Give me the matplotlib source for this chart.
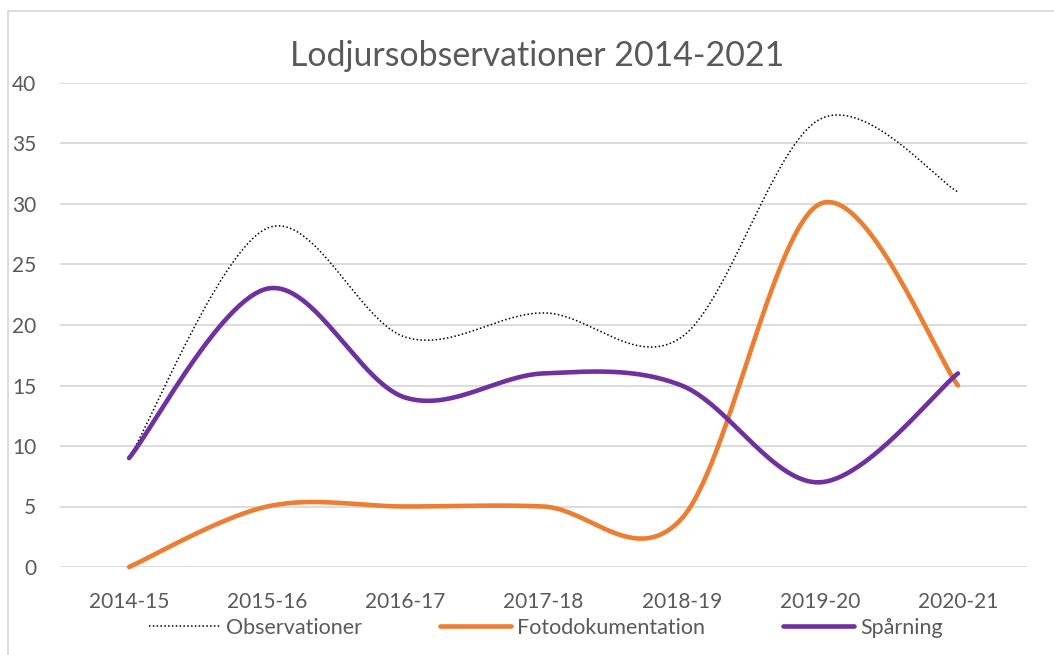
import numpy as np
import matplotlib
matplotlib.use("Agg")
import matplotlib.pyplot as plt
from matplotlib.lines import Line2D

categories = ["2014-15", "2015-16", "2016-17", "2017-18", "2018-19", "2019-20", "2020-21"]
observationer = [9, 28, 19, 21, 19, 37, 31]
fotodokumentation = [0, 5, 5, 5, 4, 30, 15]
sparning = [9, 23, 14, 16, 15, 7, 16]
title = "Lodjursobservationer 2014-2021"
yticks = [0, 5, 10, 15, 20, 25, 30, 35, 40]

TEXT = "#595959"
GRID = "#d9d9d9"
plt.rcParams["font.family"] = ["Lato", "DejaVu Sans"]

W, H = 1054, 655
fig = plt.figure(figsize=(W / 100, H / 100), dpi=100)
ax = fig.add_axes([60 / W, (H - 567) / H, (1027 - 60) / W, (567 - 83) / H])
ax.set_xlim(-0.5, len(categories) - 0.5)
ax.set_ylim(0, 40)


def smooth(xs, ys, n=60):
    pts = ax.transData.transform(np.column_stack([xs, ys]))
    out = [pts[0]]
    m = len(pts)
    for i in range(m - 1):
        p0 = pts[i - 1] if i > 0 else pts[i]
        p1 = pts[i]
        p2 = pts[i + 1]
        p3 = pts[i + 2] if i + 2 < m else pts[i + 1]
        d02 = np.linalg.norm(p2 - p0)
        d13 = np.linalg.norm(p3 - p1)
        d12 = np.linalg.norm(p2 - p1)
        f1 = 1 / 6 if d02 == 0 else min(1 / 6, 0.5 * d12 / d02)
        f2 = 1 / 6 if d13 == 0 else min(1 / 6, 0.5 * d12 / d13)
        c1 = p1 + (p2 - p0) * f1
        c2 = p2 - (p3 - p1) * f2
        t = np.linspace(0, 1, n)[1:, None]
        b = ((1 - t) ** 3) * p1 + 3 * ((1 - t) ** 2) * t * c1 + 3 * (1 - t) * t ** 2 * c2 + t ** 3 * p2
        out.extend(b)
    out = np.array(out)
    d = ax.transData.inverted().transform(out)
    return d[:, 0], d[:, 1]


x = np.arange(len(categories))
xs, ys = smooth(x, observationer)
ax.plot(xs, ys, color="black", lw=1.1, ls=(0, (1, 1.5)), label="Observationer", zorder=3, clip_on=False)
xs, ys = smooth(x, fotodokumentation)
ax.plot(xs, ys, color="#ED7D31", lw=3.3, solid_capstyle="round", label="Fotodokumentation", zorder=3, clip_on=False)
xs, ys = smooth(x, sparning)
ax.plot(xs, ys, color="#7030A0", lw=3.3, solid_capstyle="round", label="Spårning", zorder=4, clip_on=False)

ax.set_yticks(yticks)
ax.set_xticks(x)
ax.set_xticklabels(categories)
ax.yaxis.grid(True, color=GRID, lw=1.3)
ax.set_axisbelow(True)
for s in ax.spines.values():
    s.set_visible(False)
ax.tick_params(axis="both", length=0, colors=TEXT, labelsize=15)
ax.tick_params(axis="y", pad=17)
ax.tick_params(axis="x", pad=18)

fig.text(537 / W, 1 - 56 / H, title, ha="center", va="center", fontsize=24.4, color=TEXT)

leg = fig.legend(loc="center", bbox_to_anchor=(546 / W, 1 - 628 / H), ncol=3, frameon=False,
                 fontsize=15.5, labelcolor=TEXT, handlelength=3.3, handletextpad=0.3, columnspacing=3.6)

fig.add_artist(Line2D([8 / W, 8 / W, 1.0], [0, 1 - 11 / H, 1 - 11 / H], transform=fig.transFigure,
                      color=GRID, lw=1.3))

fig.savefig("out.png", dpi=100)
